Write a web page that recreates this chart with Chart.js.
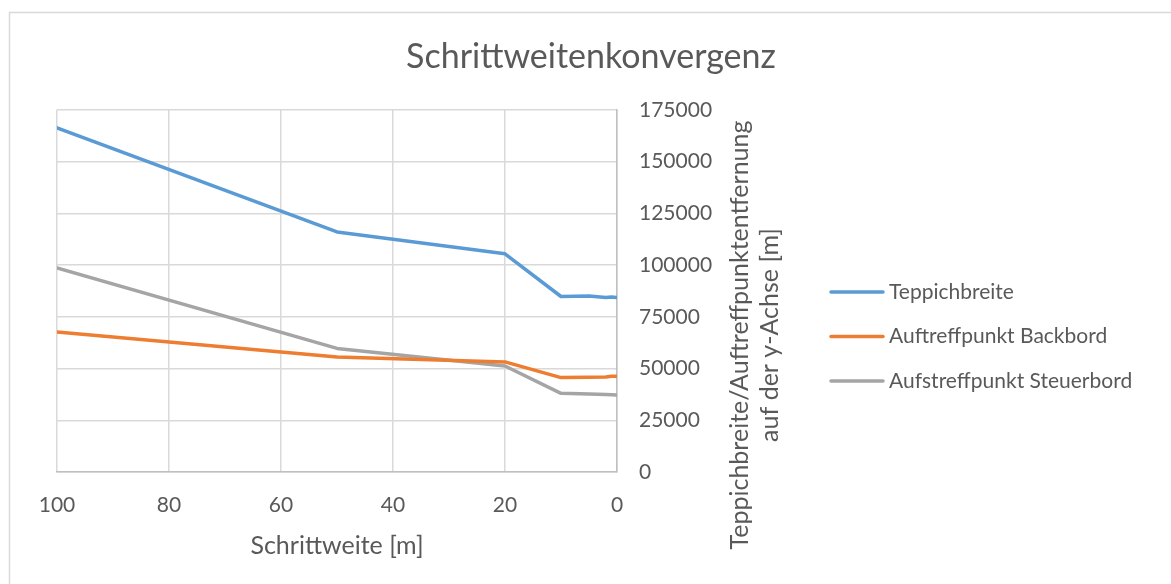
<!DOCTYPE html>
<html>
<head>
<meta charset="utf-8">
<script src="https://cdn.jsdelivr.net/npm/chart.js@4.4.0/dist/chart.umd.min.js"></script>
<style>
  html, body { margin: 0; padding: 0; background: #fff; }
  #wrap { width: 1171px; height: 584px; position: relative; }
</style>
</head>
<body>
<div id="wrap"><canvas id="chartCanva"></canvas></div>
<script>
// Schrittweite [m] und Ergebnisse [m]
const schrittweite  = [100, 50, 20, 10, 5, 2, 1, 0.1];
const teppichbreite = [166300, 116000, 105400, 84800, 85000, 84300, 84600, 84300];
const backbord      = [67700, 55600, 53200, 45600, 45800, 45900, 46300, 46300];
const steuerbord    = [98600, 59700, 51200, 38000, 37700, 37400, 37300, 37200];

const seriesNames  = ['Teppichbreite', 'Auftreffpunkt Backbord', 'Aufstreffpunkt Steuerbord'];
const seriesColors = ['#5b9bd5', '#ed7d31', '#a5a5a5'];
const yTitle = ['Teppichbreite/Auftreffpunktentfernung', 'auf der y-Achse [m]'];

const textColor = '#595959';
const fontFam = 'Lato, "Open Sans", sans-serif';

const toPoints = arr => arr.map((v, i) => ({ x: schrittweite[i], y: v }));

const data = {
  datasets: [teppichbreite, backbord, steuerbord].map((arr, i) => ({
    label: seriesNames[i],
    data: toPoints(arr),
    borderColor: seriesColors[i],
    backgroundColor: seriesColors[i],
    borderWidth: 3.5,
    borderCapStyle: 'round',
    borderJoinStyle: 'round',
    pointRadius: 0,
    tension: 0
  }))
};

// frame, rotated right axis title and the legend on the right
const extras = {
  id: 'extras',
  beforeDraw(chart) {
    const ctx = chart.ctx;
    ctx.save();
    ctx.strokeStyle = '#d9d9d9';
    ctx.lineWidth = 1.5;
    ctx.strokeRect(9.5, 12.5, chart.width + 20, chart.height + 20);
    ctx.restore();
  },
  afterDraw(chart) {
    const ctx = chart.ctx;
    const y = chart.scales.y;
    ctx.save();
    ctx.fillStyle = textColor;
    ctx.font = '25px ' + fontFam;
    ctx.textAlign = 'center';
    ctx.textBaseline = 'middle';
    ctx.translate(y.left, 335);
    ctx.rotate(-Math.PI / 2);
    ctx.fillText(yTitle[0], 0, 123);
    ctx.fillText(yTitle[1], 0, 153);
    ctx.restore();

    // legend
    ctx.save();
    ctx.font = '21px ' + fontFam;
    ctx.textAlign = 'left';
    ctx.textBaseline = 'middle';
    chart.data.datasets.forEach((ds, i) => {
      const ly = 292 + i * 44.5;
      ctx.strokeStyle = ds.borderColor;
      ctx.lineWidth = 3.5;
      ctx.lineCap = 'round';
      ctx.beginPath();
      ctx.moveTo(y.left + 214, ly);
      ctx.lineTo(y.left + 266, ly);
      ctx.stroke();
      ctx.fillStyle = textColor;
      ctx.fillText(ds.label, y.left + 272, ly);
    });
    ctx.restore();
  }
};

const config = {
  type: 'line',
  data: data,
  options: {
    responsive: true,
    maintainAspectRatio: false,
    animation: false,
    layout: { padding: { left: 57, right: 46, top: 0, bottom: 12 } },
    scales: {
      x: {
        type: 'linear',
        reverse: true,
        min: 0,
        max: 100,
        ticks: { stepSize: 20, color: textColor, padding: 21, maxRotation: 0,
                 font: { family: fontFam, size: 21 } },
        grid: { color: '#d9d9d9', lineWidth: 1.5, drawTicks: false },
        border: { color: '#bfbfbf', width: 1.5 },
        title: { display: true, text: 'Schrittweite [m]', color: textColor,
                 font: { family: fontFam, size: 25 }, padding: { top: 4, bottom: 11 } },
        afterFit: scale => { scale.height = 100; }
      },
      y: {
        position: 'right',
        min: 0,
        max: 175000,
        ticks: { stepSize: 25000, color: textColor, padding: 22,
                 font: { family: fontFam, size: 21 },
                 callback: v => String(v) },
        grid: { color: '#d9d9d9', lineWidth: 1.5, drawTicks: false },
        border: { color: '#bfbfbf', width: 1.5 },
        afterFit: scale => { scale.width = 508; }
      }
    },
    plugins: {
      title: {
        display: true,
        text: 'Schrittweitenkonvergenz',
        color: textColor,
        font: { family: fontFam, size: 34, weight: 'normal' },
        padding: { top: 37, bottom: 32 }
      },
      legend: { display: false },
      tooltip: { enabled: false }
    }
  },
  plugins: [extras]
};

const myChart = new Chart(document.getElementById('chartCanva'), config);
</script>
</body>
</html>
